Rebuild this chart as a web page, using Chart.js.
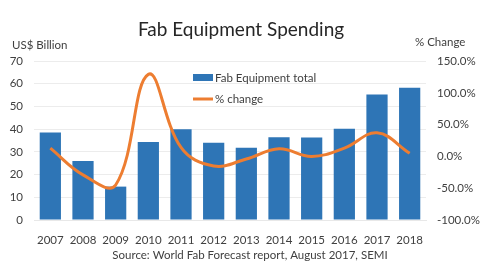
<!DOCTYPE html>
<html>
<head>
<meta charset="utf-8">
<script src="https://cdn.jsdelivr.net/npm/chart.js@4"></script>
<style>
html,body{margin:0;padding:0;background:#fff;}
#wrap{width:500px;height:275px;}
</style>
</head>
<body>
<div id="wrap"><canvas id="c" width="500" height="275"></canvas></div>
<script>
const years = ['2007','2008','2009','2010','2011','2012','2013','2014','2015','2016','2017','2018'];
const spending = [38.5, 26, 14.7, 34.3, 39.9, 34, 31.8, 36.4, 36.3, 40.2, 55.3, 58.2];
const pctChange = [13, -29, -45, 129, 14, -15, -4, 12, 0, 13, 37, 5];
const leftTicks = [0, 70, 10];
const rightTicks = [-100, 150, 50];

const FONT = 'Lato, "Open Sans", sans-serif';
const BLUE = '#2E75B6';
const ORANGE = '#ED7D31';
const TXT = '#404040';

const textPlugin = {
  id: 'texts',
  afterDraw(chart) {
    const ctx = chart.ctx;
    ctx.save();
    ctx.fillStyle = '#262626';
    ctx.textBaseline = 'middle';
    ctx.textAlign = 'center';
    ctx.font = '19px ' + FONT;
    ctx.fillText('Fab Equipment Spending', 241, 30);
    ctx.fillStyle = TXT;
    ctx.font = '11.5px ' + FONT;
    ctx.textAlign = 'left';
    ctx.fillText('US$ Billion', 12, 45);
    ctx.fillText('% Change', 415, 42);
    ctx.textAlign = 'center';
    ctx.fillText('Source: World Fab Forecast report, August 2017, SEMI', 250, 255);
    // legend
    ctx.textAlign = 'left';
    ctx.fillStyle = BLUE;
    ctx.fillRect(193, 74, 20, 7);
    ctx.strokeStyle = ORANGE;
    ctx.lineWidth = 3;
    ctx.beginPath(); ctx.moveTo(193, 99); ctx.lineTo(213, 99); ctx.stroke();
    ctx.fillStyle = TXT;
    ctx.fillText('Fab Equipment total', 215, 78);
    ctx.fillText('% change', 215, 99);
    ctx.restore();
  }
};

new Chart(document.getElementById('c'), {
  data: {
    labels: years,
    datasets: [
      {
        type: 'line', label: '% change', data: pctChange, yAxisID: 'y2',
        borderColor: ORANGE, borderWidth: 3, pointRadius: 0, tension: 0.4,
        fill: false, order: 0
      },
      {
        type: 'bar', label: 'Fab Equipment total', data: spending, yAxisID: 'y',
        backgroundColor: BLUE, barPercentage: 0.65, categoryPercentage: 1.0, order: 1
      }
    ]
  },
  options: {
    responsive: false,
    animation: false,
    layout: { padding: { left: 0, right: 0, top: 61, bottom: 0 } },
    plugins: { legend: { display: false }, title: { display: false }, tooltip: { enabled: false } },
    scales: {
      x: {
        grid: { display: false },
        border: { display: true, color: '#e8e8e8' },
        ticks: { color: TXT, font: { family: FONT, size: 11.5 }, padding: 5, maxRotation: 0 },
        afterFit(s) { s.height = 55; }
      },
      y: {
        position: 'left', min: leftTicks[0], max: leftTicks[1],
        ticks: { stepSize: leftTicks[2], color: TXT, font: { family: FONT, size: 11.5 }, padding: 11 },
        grid: { color: '#ececec', drawTicks: false },
        border: { display: false },
        afterFit(s) { s.width = 34; }
      },
      y2: {
        position: 'right', min: rightTicks[0], max: rightTicks[1],
        ticks: { stepSize: rightTicks[2], color: TXT, font: { family: FONT, size: 11.5 }, padding: 11,
          callback: v => v.toFixed(1) + '%' },
        grid: { display: false, drawTicks: false },
        border: { display: false },
        afterFit(s) { s.width = 74; }
      }
    }
  },
  plugins: [textPlugin]
});
</script>
</body>
</html>
